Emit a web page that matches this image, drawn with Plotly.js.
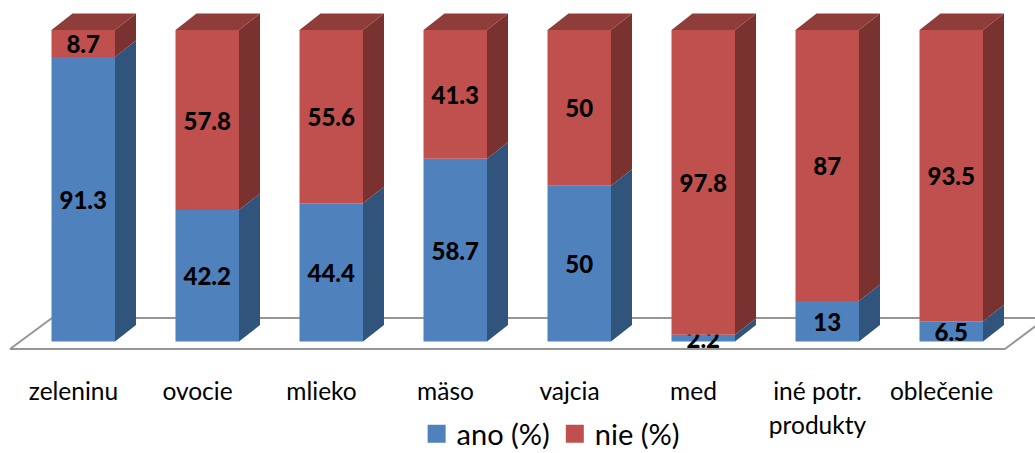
<!DOCTYPE html>
<html><head><meta charset="utf-8">
<script src="https://cdn.plot.ly/plotly-3.0.1.min.js"></script>
<style>html,body{margin:0;padding:0;background:#fff}</style></head>
<body><div id="chart" style="width:1035px;height:453px"></div>
<script>
const categories = ["zeleninu","ovocie","mlieko","mäso","vajcia","med","iné potr.<br>produkty","oblečenie"];
const ano = [91.3,42.2,44.4,58.7,50,2.2,13,6.5];
const nie = [8.7,57.8,55.6,41.3,50,97.8,87,93.5];
const seriesNames = ["ano (%)","nie (%)"];
const idx = categories.map((_,i)=>i);

const W=1035,H=453,axisPx=360;
const pxPerCat=124, pxPerUnit=3.115;
const barOffset=-22/pxPerCat, barWidth=63.5/pxPerCat;
const dx=21/pxPerCat, dy=16.5/pxPerUnit;
const FONT="Lato, 'Open Sans', sans-serif";

function sides(lo,hi){
  const xs=[],ys=[];
  idx.forEach(i=>{
    const r=i+barOffset+barWidth;
    xs.push(r,r+dx,r+dx,r,null);
    ys.push(lo[i],lo[i]+dy,hi[i]+dy,hi[i],null);
  });
  return {x:xs,y:ys};
}
function tops(){
  const xs=[],ys=[];
  idx.forEach(i=>{
    const l=i+barOffset,r=l+barWidth;
    xs.push(l,l+dx,r+dx,r,null);
    const t=ano[i]+nie[i];
    ys.push(t,t+dy,t+dy,t,null);
  });
  return {x:xs,y:ys};
}
function poly(p,color){
  return {type:'scatter',mode:'lines',x:p.x,y:p.y,fill:'toself',fillcolor:color,
    line:{width:0,color:color},showlegend:false,hoverinfo:'skip'};
}
function bar(name,vals,base,color){
  return {type:'bar',name:name,x:idx,y:vals,base:base,offset:barOffset,width:barWidth,
    marker:{color:color,line:{width:0}},text:vals.map(String),textposition:'inside',
    insidetextanchor:'middle',constraintext:'none',
    textfont:{family:FONT,size:24,color:'#000',weight:900},showlegend:false,hoverinfo:'y'};
}
function legendKey(name,color){
  return {type:'scatter',mode:'markers',name:name,x:[-9],y:[-90],
    marker:{symbol:'square',size:16,color:color,line:{width:2,color:color}},hoverinfo:'skip'};
}
const zero=idx.map(()=>0);
const traces=[
  bar(seriesNames[0],ano,zero,'#4F81BD'),
  bar(seriesNames[1],nie,ano,'#C0504D'),
  poly(sides(zero,ano),'#31547C'),
  poly(sides(ano,ano.map((v,i)=>v+nie[i])),'#7A3230'),
  poly(tops(),'#8F3D3A'),
  legendKey(seriesNames[0],'#4F81BD'),
  legendKey(seriesNames[1],'#C0504D')
];
const fx=p=>p/W, fy=p=>(H-p)/H;
const floor=(x0,y0,x1,y1)=>({type:'line',xref:'paper',yref:'paper',layer:'below',
  x0:fx(x0),y0:fy(y0),x1:fx(x1),y1:fy(y1),line:{color:'#969696',width:2}});
const layout={
  width:W,height:H,margin:{l:0,r:0,t:0,b:0,pad:0,autoexpand:false},
  paper_bgcolor:'#fff',plot_bgcolor:'rgba(0,0,0,0)',barmode:'overlay',
  xaxis:{type:'linear',range:[-73.5/pxPerCat,(W-73.5)/pxPerCat],tickmode:'array',tickvals:idx,
    ticktext:categories.map(c=>'<span style="font-size:24.5px">'+c+'</span>'),
    tickfont:{family:FONT,size:25.4,color:'#000'},ticks:'outside',ticklen:9,tickcolor:'rgba(0,0,0,0)',
    showgrid:false,zeroline:false,showline:false,tickangle:0,fixedrange:true,automargin:false},
  yaxis:{domain:[(H-axisPx)/H,1],range:[-(axisPx-341.5)/pxPerUnit,341.5/pxPerUnit],visible:false,fixedrange:true},
  shapes:[floor(10,349,1005,349),floor(10,349,52,318),floor(52,318,1035,318),floor(1005,349,1037,325)],
  legend:{orientation:'h',x:0.532,xanchor:'center',y:19/H,yanchor:'middle',
    font:{family:FONT,size:29,color:'#000'},bgcolor:'rgba(0,0,0,0)',itemwidth:30,traceorder:'normal'},
  showlegend:true
};
Plotly.newPlot('chart',traces,layout,{displayModeBar:false,staticPlot:true});
</script></body></html>
